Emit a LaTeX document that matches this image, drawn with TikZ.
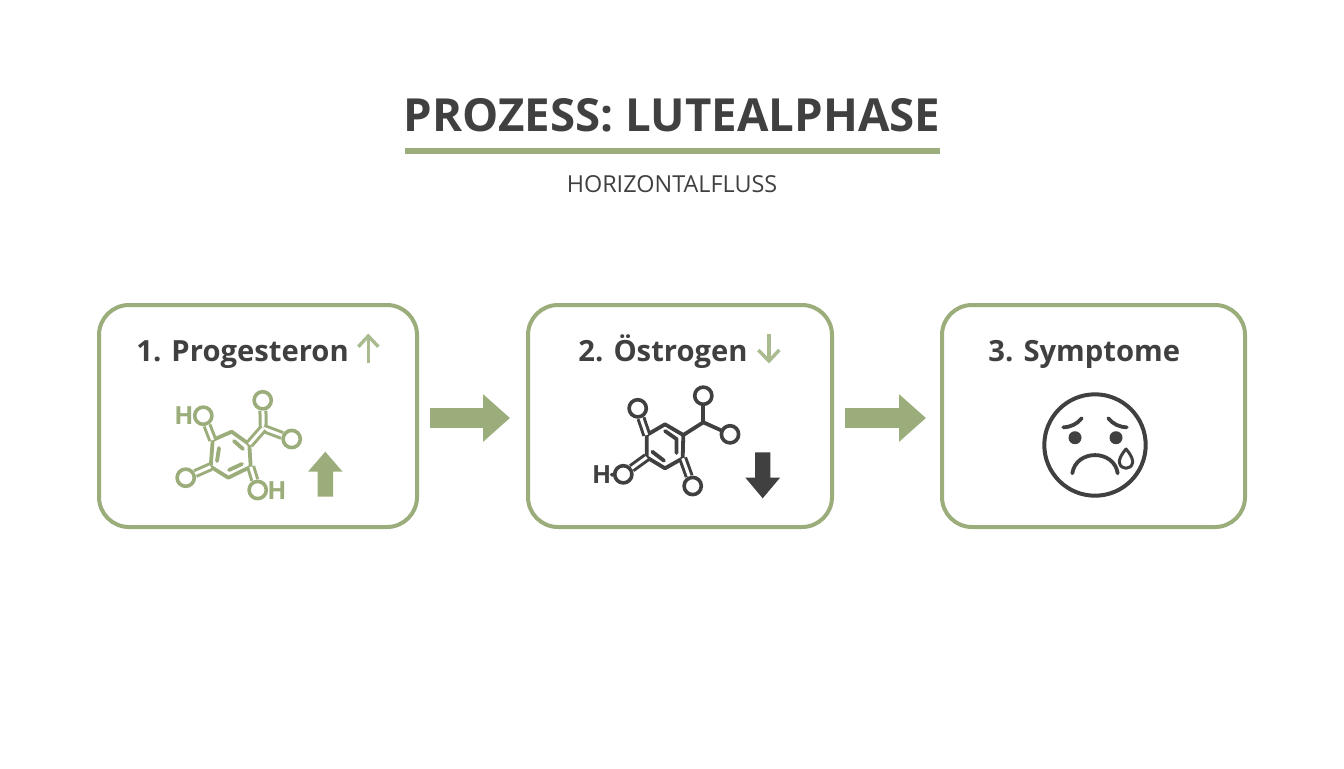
\documentclass[tikz,border=0pt]{standalone}
\usepackage{fontspec}
\setmainfont{Open Sans}
\usetikzlibrary{arrows.meta}
\definecolor{sage}{HTML}{9BAD7A}
\definecolor{sagelight}{HTML}{A9BB8F}
\definecolor{ink}{HTML}{404040}
\tikzset{
  stepbox/.style={draw=sage,line width=2pt,rounded corners=15pt,fill=white,minimum width=#1,minimum height=111pt,inner sep=0pt},
  steptitle/.style={anchor=base west,inner sep=0pt,font=\fontsize{14.6}{18}\selectfont\bfseries,text=ink},
  flowarrow/.style={draw=sage,line width=10pt,-{Triangle[length=13.5pt,width=23pt]}},
  thinarrow/.style={draw=sagelight,line width=1.7pt},
  atom/.style={circle,draw,fill=white,line width=1.8pt,minimum size=8.6pt,inner sep=0pt},
  atomlabel/.style={inner sep=0pt,font=\fontsize{12.5}{14}\selectfont\bfseries},
  bond/.style={line width=1.9pt,line join=round,line cap=round},
  dbond/.style={double=white,double distance=1.5pt,line width=1.5pt},
}
\begin{document}
\begin{tikzpicture}[x=0.5pt,y=-0.5pt]
  \useasboundingbox (0,0) rectangle (1344,768);
  % heading
  \node (title) at (672,115.5) [inner sep=0pt,font=\fontsize{22.8}{28}\selectfont\bfseries,text=ink] {PROZESS: LUTEALPHASE};
  \coordinate (ruleL) at (405,151);
  \coordinate (ruleR) at (940,151);
  \draw [sage,line width=3pt] (ruleL) -- (ruleR);
  \node (subtitle) at (672,184) [inner sep=0pt,font=\fontsize{11.7}{13}\selectfont,text=ink] {HORIZONTALFLUSS};
  % boxes
  \node (box1) at (258,416) [stepbox=159pt] {};
  \node (box2) at (680,416) [stepbox=152pt] {};
  \node (box3) at (1093.5,416) [stepbox=151.5pt] {};
  \draw [flowarrow] ([xshift=5.5pt,yshift=-1pt]box1.east) -- ([xshift=-8pt,yshift=-1pt]box2.west);
  \draw [flowarrow] ([xshift=5.5pt,yshift=-1pt]box2.east) -- ([xshift=-7pt,yshift=-1pt]box3.west);
  \node (label1) at (136,361) [steptitle] {1. Progesteron};
  \node (label2) at (578,361) [steptitle] {2. Östrogen};
  \node (label3) at (988,361) [steptitle] {3. Symptome};
  % small arrows next to the labels
  \draw [thinarrow] (368.3,363) -- (368.3,336);
  \draw [thinarrow] (358.3,346.7) -- (368.3,336) -- (378.3,346.7);
  \draw [thinarrow] (769,334) -- (769,361);
  \draw [thinarrow] (758.3,350) -- (769,361) -- (779.3,350);
  % first molecule
  \begin{scope}[sage]
    \coordinate (a1) at (231.7,431.7);
    \coordinate (a2) at (249.3,444.3);
    \coordinate (a3) at (250.7,466.7);
    \coordinate (a4) at (228.3,477.7);
    \coordinate (a5) at (210.7,466.7);
    \coordinate (a6) at (212.7,440);
    \coordinate (abr) at (263.3,428.3);
    \draw [bond] (a1) -- (a2) -- (a3) -- (a4) -- (a5) -- (a6) -- cycle;
    \draw [bond] (219,448) -- (217,461);
    \draw [bond] (234,441) -- (243,449);
    \draw [bond] (229,470) -- (242,464);
    \node (o1) at (203.3,415.7) [atom] {};
    \node (o2) at (262.7,400.3) [atom] {};
    \node (o3) at (291.7,439) [atom] {};
    \node (o4) at (185.7,477.7) [atom] {};
    \node (o5) at (257.7,490) [atom] {};
    \draw [dbond] (o1) -- (a6);
    \draw [dbond] (o2) -- (abr);
    \draw [dbond] (o3) -- (abr);
    \draw [dbond] (o4) -- (a5);
    \draw [dbond] (o5) -- (a3);
    \draw [dbond] (abr) -- (a2);
    \node (h1) at (184,416) [atomlabel] {H};
    \node (h2) at (277,491) [atomlabel] {H};
    \fill (325.3,451.7) -- (342.6,471.7) -- (333,471.7) -- (333,496.7) -- (317.6,496.7) -- (317.6,471.7) -- (308,471.7) -- cycle;
  \end{scope}
  % second molecule
  \begin{scope}[ink]
    \coordinate (b1) at (665,424.3);
    \coordinate (b2) at (683.3,435);
    \coordinate (b3) at (682.7,458.3);
    \coordinate (b4) at (665,468.3);
    \coordinate (b5) at (646.7,457.3);
    \coordinate (b6) at (646.7,435);
    \coordinate (bbr) at (703.3,422.3);
    \draw [bond] (b1) -- (b2) -- (b3) -- (b4) -- (b5) -- (b6) -- cycle;
    \draw [bond] (665,431) -- (676.5,439) -- (676.5,453);
    \draw [bond] (652.3,451.7) -- (664,460.7);
    \node (p1) at (637.7,408.3) [atom] {};
    \node (p2) at (703.3,395.7) [atom] {};
    \node (p3) at (730,434.3) [atom] {};
    \node (p4) at (623.3,474.3) [atom] {};
    \node (p5) at (692.7,486) [atom] {};
    \draw [dbond] (p1) -- (b6);
    \draw [bond] (p2) -- (bbr);
    \draw [bond] (p3) -- (bbr);
    \draw [bond] (bbr) -- (b2);
    \draw [dbond] (p4) -- (b5);
    \draw [dbond] (p5) -- (b3);
    \node (h3) at (601.7,475) [atomlabel] {H};
    \draw [bond] (h3) -- (p4);
    \fill (762.7,498.3) -- (780,477.7) -- (770.4,477.7) -- (770.4,452.3) -- (755,452.3) -- (755,477.7) -- (745.4,477.7) -- cycle;
  \end{scope}
  % sad face
  \begin{scope}[ink]
    \node (face) at (1095,445) [circle,draw,line width=2pt,minimum size=50.7pt,inner sep=0pt] {};
    \node (eye1) at (1075,437.7) [circle,fill,minimum size=6.5pt,inner sep=0pt] {};
    \node (eye2) at (1116,437.7) [circle,fill,minimum size=6.5pt,inner sep=0pt] {};
    \draw [bond] (1063.3,427.3) .. controls (1071,427) and (1077,424) .. (1081.7,418.3);
    \draw [bond] (1108.3,418.3) .. controls (1113,424) and (1119,427) .. (1126.7,427.3);
    \draw [bond] (1072.3,473.3) .. controls (1076,449) and (1114,449) .. (1117.7,473.3);
    \draw [line width=1.5pt,line join=round] (1126,449) .. controls (1120,456) and (1119,460) .. (1119.5,463) .. controls (1121,470) and (1131,470) .. (1132.5,463) .. controls (1133,460) and (1132,456) .. (1126,449) -- cycle;
  \end{scope}
\end{tikzpicture}
\end{document}
